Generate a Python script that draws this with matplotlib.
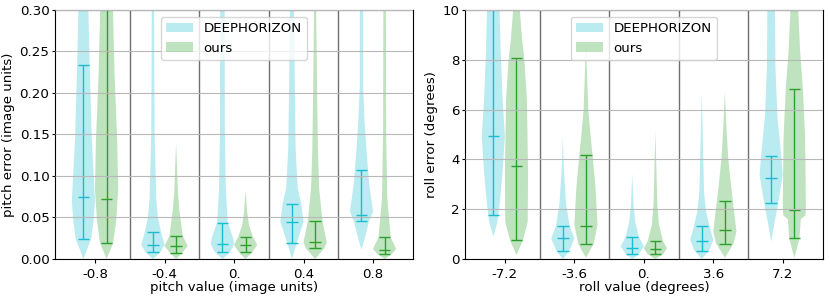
import numpy as np
import matplotlib
matplotlib.use('Agg')
import matplotlib.pyplot as plt
from matplotlib.patches import Patch

plt.rcParams['font.size'] = 9.6
plt.rcParams['xtick.major.size'] = 3
plt.rcParams['xtick.major.pad'] = 3.5
plt.rcParams['ytick.major.size'] = 2.5
plt.rcParams['ytick.major.pad'] = 1.5

# violin profiles: y value -> relative half width
# stats = (lower bar, median, upper bar)
pitch_labels = ['-0.8', '-0.4', '0.', '0.4', '0.8']
roll_labels = ['-7.2', '-3.6', '0.', '3.6', '7.2']

pitch_dh_y = [[0, 0.0245, 0.046, 0.07, 0.105, 0.145, 0.234, 0.30, 0.34],
              [0, 0.0084, 0.017, 0.032, 0.05, 0.072, 0.153, 0.30, 0.34],
              [0, 0.008, 0.0177, 0.025, 0.044, 0.085, 0.153, 0.30, 0.34],
              [0, 0.0193, 0.045, 0.067, 0.085, 0.132, 0.193, 0.30, 0.34],
              [0.0113, 0.025, 0.045, 0.057, 0.091, 0.132, 0.167, 0.211, 0.30, 0.34]]
pitch_dh_w = [[0, 0.67, 0.87, 1.0, 0.87, 0.72, 0.54, 0.43, 0.40],
              [0, 0.66, 1.0, 0.71, 0.43, 0.29, 0.14, 0.10, 0.10],
              [0, 0.64, 1.0, 0.93, 0.46, 0.29, 0.21, 0.19, 0.19],
              [0, 0.41, 1.0, 0.8, 0.5, 0.32, 0.26, 0.17, 0.17],
              [0, 0.29, 0.64, 1.0, 0.66, 0.43, 0.26, 0.14, 0.14, 0.14]]
pitch_dh_stats = [(0.0245, 0.0743, 0.2337), (0.0084, 0.0169, 0.032),
                  (0.008, 0.0177, 0.0438), (0.0193, 0.0446, 0.0667),
                  (0.0454, 0.0534, 0.1072)]

pitch_ours_y = [[0, 0.019, 0.046, 0.084, 0.142, 0.222, 0.296, 0.34],
                [0, 0.007, 0.0155, 0.028, 0.06, 0.08, 0.114, 0.14],
                [0, 0.008, 0.017, 0.027, 0.041, 0.057, 0.083],
                [0, 0.013, 0.02, 0.046, 0.085, 0.132, 0.193, 0.30, 0.34],
                [0, 0.0056, 0.012, 0.026, 0.073, 0.153, 0.30, 0.34]]
pitch_ours_w = [[0, 0.56, 0.83, 1.0, 0.92, 0.69, 0.56, 0.5],
                [0, 0.5, 1.0, 0.57, 0.28, 0.16, 0.07, 0],
                [0, 0.57, 1.0, 0.63, 0.29, 0.13, 0],
                [0, 0.8, 1.0, 0.63, 0.35, 0.24, 0.18, 0.09, 0.09],
                [0, 0.6, 1.0, 0.53, 0.23, 0.13, 0.11, 0.11]]
pitch_ours_stats = [(0.0189, 0.0719, 0.35), (0.0069, 0.0157, 0.0277),
                    (0.008, 0.0169, 0.0269), (0.0133, 0.0205, 0.0462),
                    (0.0056, 0.0108, 0.0261)]

roll_dh_y = [[0.9, 1.5, 2.17, 3.5, 4.93, 6.4, 8.4, 10, 11],
             [0, 0.33, 0.83, 1.33, 2.2, 3.6, 4.91],
             [0, 0.19, 0.5, 0.9, 1.5, 2.17, 3.44],
             [0, 0.33, 0.76, 1.31, 1.9, 2.7, 4.7, 6.72],
             [0.7, 1.5, 2.25, 3.37, 4.15, 5.7, 7.7, 10, 11]]
roll_dh_w = [[0, 0.36, 0.54, 0.8, 1.0, 0.8, 0.63, 0.54, 0.5],
             [0, 0.57, 1.0, 0.59, 0.29, 0.09, 0],
             [0, 0.54, 1.0, 0.56, 0.26, 0.11, 0],
             [0, 0.62, 1.0, 0.68, 0.38, 0.2, 0.1, 0],
             [0, 0.3, 0.6, 1.0, 0.87, 0.54, 0.37, 0.33, 0.33]]
roll_dh_stats = [(1.77, 4.93, 12.0), (0.33, 0.83, 1.33), (0.19, 0.46, 0.90),
                 (0.33, 0.72, 1.31), (2.25, 3.24, 4.15)]

roll_ours_y = [[0.16, 0.76, 1.5, 3.5, 6.4, 8.06, 8.9, 10, 11],
               [0.05, 0.6, 1.37, 2.85, 4.18, 4.8, 6.0, 7.35, 8.6],
               [0, 0.19, 0.43, 0.72, 1.37, 2.17, 3.5, 5.11],
               [0.05, 0.62, 1.1, 2.33, 3.1, 4.05, 5.4, 6.72],
               [0.04, 0.83, 1.6, 1.75, 2.05, 4.9, 6.83, 8.4, 10, 11]]
roll_ours_w = [[0, 0.57, 0.97, 1.0, 0.9, 0.67, 0.47, 0.29, 0.2],
               [0, 0.66, 1.0, 0.83, 0.57, 0.43, 0.2, 0.1, 0],
               [0, 0.66, 1.0, 0.66, 0.31, 0.17, 0.09, 0],
               [0, 0.75, 1.0, 0.69, 0.5, 0.29, 0.12, 0],
               [0, 0.44, 0.56, 0.95, 1.0, 0.93, 0.74, 0.49, 0.34, 0.3]]
roll_ours_stats = [(0.76, 3.73, 8.06), (0.60, 1.33, 4.18), (0.19, 0.41, 0.72),
                   (0.62, 1.15, 2.33), (0.83, 1.98, 6.83)]


def draw(ax, ys_list, ws_list, stats_list, offset, color):
    vp = []
    for ys, ws, (lo, med, hi) in zip(ys_list, ws_list, stats_list):
        vp.append(dict(coords=np.array(ys), vals=np.array(ws),
                       mean=med, median=med, min=lo, max=hi))
    pos = [i + offset for i in range(len(vp))]
    parts = ax.violin(vp, positions=pos, widths=1/3, showmeans=False,
                      showextrema=True, showmedians=True)
    for b in parts['bodies']:
        b.set_facecolor(color)
        b.set_edgecolor('none')
        b.set_alpha(0.3)
    for k in ('cbars', 'cmins', 'cmaxes', 'cmedians'):
        parts[k].set_color(color)
        parts[k].set_linewidth(1)


fig = plt.figure(figsize=(8.3, 2.99), dpi=100)
ax1 = fig.add_axes([0.0663, 0.1338, 0.4313, 0.8328])
ax2 = fig.add_axes([0.5602, 0.1338, 0.4310, 0.8328])

panels = [
    (ax1, pitch_dh_y, pitch_dh_w, pitch_dh_stats, pitch_ours_y, pitch_ours_w,
     pitch_ours_stats, pitch_labels, (0, 0.3), 'pitch value (image units)',
     'pitch error (image units)'),
    (ax2, roll_dh_y, roll_dh_w, roll_dh_stats, roll_ours_y, roll_ours_w,
     roll_ours_stats, roll_labels, (0, 10), 'roll value (degrees)',
     'roll error (degrees)'),
]

for ax, dy, dw, ds, oy, ow, os_, labels, ylim, xl, yl in panels:
    ax.yaxis.grid(True, color='#b8b8b8', lw=0.8)
    ax.set_axisbelow(False)
    draw(ax, dy, dw, ds, -1/6, 'tab:cyan')
    draw(ax, oy, ow, os_, 1/6, 'tab:green')
    for x in [0.5, 1.5, 2.5, 3.5]:
        ax.axvline(x, color='#707070', lw=1)
    ax.set_xlim(-0.575, 4.575)
    ax.set_ylim(*ylim)
    ax.set_xticks(range(5))
    ax.set_xticklabels(labels)
    ax.set_xlabel(xl, labelpad=0)
    ax.set_ylabel(yl, labelpad=3)
    handles = [Patch(facecolor='tab:cyan', alpha=0.3),
               Patch(facecolor='tab:green', alpha=0.3)]
    ax.legend(handles, ['DEEPHORIZON', 'ours'], loc='upper center')

ax1.set_yticks(np.arange(0, 0.31, 0.05))
ax1.set_yticklabels(['%.2f' % v for v in np.arange(0, 0.31, 0.05)])
ax2.set_yticks(range(0, 11, 2))

fig.savefig('out.png', dpi=100)
